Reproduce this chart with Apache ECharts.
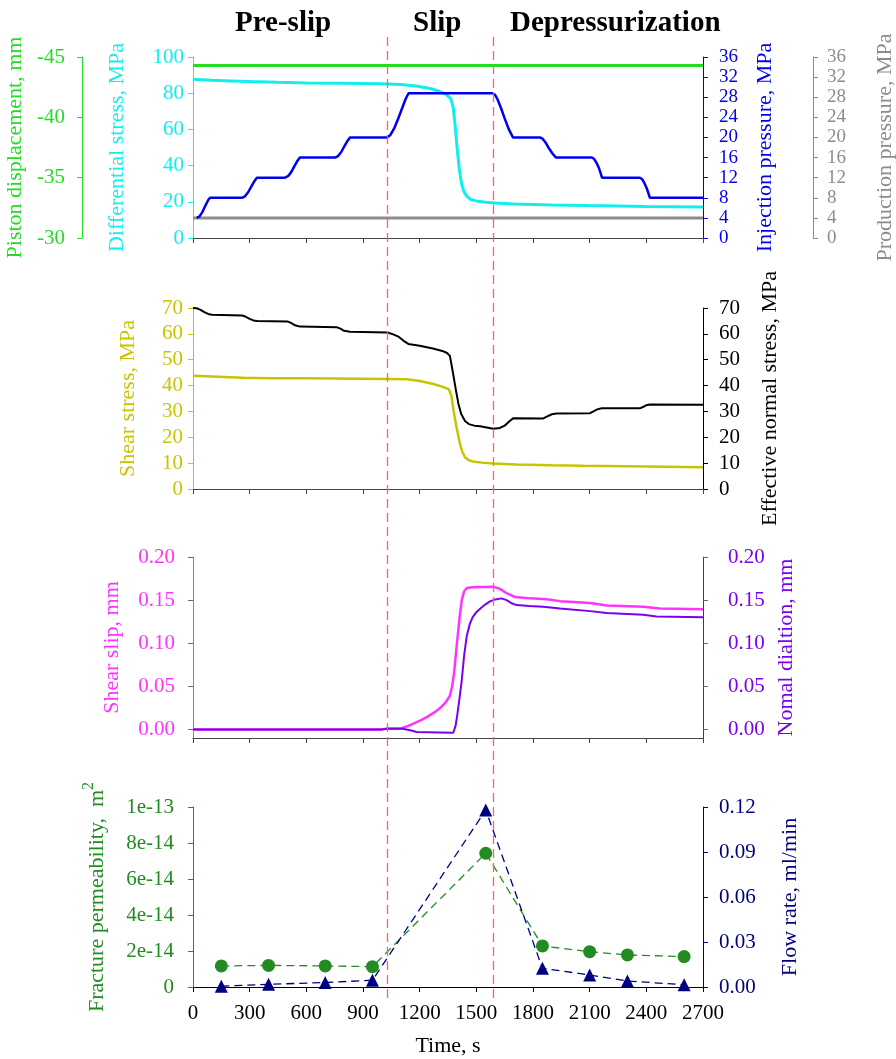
<!DOCTYPE html>
<html>
<head>
<meta charset="utf-8">
<script src="https://cdn.jsdelivr.net/npm/echarts@6/dist/echarts.min.js"></script>
<style>
  html, body { margin: 0; padding: 0; background: #fff; }
  #chart { width: 896px; height: 1059px; }
</style>
</head>
<body>
<div id="chart"></div>
<script>
// ---- Test phases ----
const phaseTitles = ['Pre-slip', 'Slip', 'Depressurization'];
const phaseBoundaries = [1030, 1590];          // s

// ---- Panel 1: loading & pore pressures ----
const pistonDisplacement = [[0, -44.3], [2700, -44.3]];   // mm
const productionPressure = [[0, 4], [2700, 4]];           // MPa
const differentialStress = [
  [0, 87.7], [100, 87.2], [200, 86.8], [300, 86.4], [450, 86.0], [600, 85.7],
  [800, 85.5], [1000, 85.2], [1100, 84.8], [1180, 84.0], [1250, 82.7], [1300, 81.2],
  [1340, 79.3], [1365, 77.0], [1378, 72.0], [1388, 62.0], [1398, 50.0], [1410, 38.0],
  [1422, 30.0], [1435, 25.5], [1450, 23.0], [1470, 21.3], [1500, 20.5], [1550, 19.8],
  [1600, 19.3], [1700, 18.8], [1900, 18.3], [2100, 17.9], [2400, 17.4], [2700, 17.1]
];
const injectionPressure = [
  [20, 4], [35, 4.3], [50, 5.2], [65, 6.4], [80, 7.5], [90, 8],
  [259, 8], [275, 8.3], [292, 9.1], [310, 10.3], [325, 11.3], [338, 12],
  [487, 12], [503, 12.3], [520, 13.1], [537, 14.3], [552, 15.3], [566, 16],
  [752, 16], [768, 16.3], [785, 17.1], [802, 18.3], [818, 19.3], [831, 20],
  [1027, 20], [1045, 20.5], [1065, 21.8], [1085, 23.6], [1105, 25.6], [1125, 27.6], [1141, 28.8],
  [1585, 28.8], [1598, 28.5], [1612, 27.6], [1630, 25.9], [1650, 23.8], [1672, 21.6], [1694, 20],
  [1837, 20], [1852, 19.7], [1868, 18.9], [1885, 17.8], [1903, 16.8], [1922, 16],
  [2112, 16], [2124, 15.7], [2137, 14.9], [2150, 13.8], [2158, 12.9], [2165, 12],
  [2366, 12], [2378, 11.7], [2390, 10.9], [2402, 9.9], [2411, 8.9], [2419, 8],
  [2700, 8]
];

// ---- Panel 2: fault stresses ----
const shearStress = [
  [0, 43.8], [100, 43.5], [266, 43.0], [400, 42.8], [600, 42.8], [1025, 42.5],
  [1131, 42.4], [1202, 41.8], [1272, 40.6], [1320, 39.6], [1355, 38.5], [1368, 36.0],
  [1380, 30.0], [1395, 24.0], [1410, 18.5], [1425, 14.5], [1440, 12.3], [1460, 11.1],
  [1490, 10.5], [1530, 10.2], [1590, 9.9], [1713, 9.5], [1900, 9.2], [2066, 9.0],
  [2400, 8.7], [2700, 8.4]
];
const effectiveNormalStress = [
  [0, 70], [20, 69.9], [40, 69.3], [60, 68.4], [80, 67.7], [100, 67.4],
  [260, 67.1], [280, 66.6], [300, 65.8], [320, 65.2], [340, 65.0],
  [500, 64.8], [520, 64.2], [540, 63.3], [566, 62.8],
  [760, 62.6], [780, 62.0], [800, 61.2], [831, 60.8],
  [1030, 60.5], [1060, 59.8], [1090, 58.8], [1115, 57.3], [1140, 56.1],
  [1200, 55.4], [1270, 54.3], [1320, 53.4], [1345, 52.6], [1360, 51.5],
  [1375, 45.5], [1390, 39.0], [1405, 33.0], [1420, 29.0], [1440, 26.3],
  [1460, 25.1], [1490, 24.5], [1520, 24.3], [1590, 23.3], [1625, 23.6],
  [1650, 24.5], [1675, 26.2], [1696, 27.4], [1855, 27.3], [1870, 27.9],
  [1900, 28.9], [1925, 29.2], [2102, 29.3], [2120, 30.0], [2140, 30.8],
  [2164, 31.2], [2366, 31.2], [2385, 31.8], [2400, 32.4], [2419, 32.7], [2700, 32.6]
];

// ---- Panel 3: fault displacements ----
const shearSlip = [
  [0, 0], [1000, 0], [1030, 0.001], [1100, 0.001], [1140, 0.004], [1170, 0.007],
  [1210, 0.011], [1240, 0.0145], [1280, 0.02], [1310, 0.025], [1340, 0.032],
  [1360, 0.039], [1372, 0.05], [1382, 0.065], [1392, 0.088], [1402, 0.11],
  [1413, 0.133], [1423, 0.15], [1435, 0.16], [1450, 0.164], [1480, 0.165],
  [1590, 0.1655], [1625, 0.163], [1660, 0.158], [1705, 0.1535], [1784, 0.152],
  [1872, 0.151], [1943, 0.1488], [2102, 0.1465], [2190, 0.1438], [2384, 0.1423],
  [2472, 0.1403], [2700, 0.1395]
];
const normalDilation = [
  [0, 0], [1000, 0], [1030, 0.0008], [1110, 0.0008], [1150, -0.001], [1184, -0.003],
  [1300, -0.0035], [1378, -0.0039], [1390, 0.004], [1400, 0.018], [1412, 0.038],
  [1422, 0.055], [1435, 0.085], [1449, 0.108], [1465, 0.122], [1480, 0.13],
  [1500, 0.136], [1520, 0.14], [1545, 0.1445], [1572, 0.1485], [1600, 0.1508],
  [1634, 0.152], [1660, 0.15], [1690, 0.146], [1713, 0.1442], [1780, 0.1432],
  [1855, 0.1423], [1943, 0.1403], [2102, 0.1372], [2190, 0.1349], [2300, 0.134],
  [2384, 0.1329], [2454, 0.131], [2700, 0.130]
];
const displacementTicks = [0, 0.05, 0.10, 0.15, 0.20];   // mm

// ---- Panel 4: hydraulic measurements ----
const sampleTimes = [150, 400, 700, 950, 1550, 1850, 2100, 2300, 2600];           // s
const fracturePermeability = [1.17e-14, 1.2e-14, 1.17e-14, 1.13e-14, 7.43e-14,
                              2.28e-14, 1.96e-14, 1.78e-14, 1.69e-14];          // m^2
const flowRate = [0.0005, 0.0018, 0.003, 0.0045, 0.118, 0.0125, 0.008, 0.004, 0.0015]; // ml/min

const timeTicks = { min: 0, max: 2700, interval: 300 };

// ---- Styling ----
const FONT = 'Liberation Serif';
const C = {
  lime: '#22dd22', cyan: '#11eeee', blue: '#0000ee', gray: '#8c8c8c',
  olive: '#c8c400', black: '#000000', magenta: '#ff33ff', purple: '#7b00f0',
  green: '#228b22', navy: '#000080', red: '#ff6464', axis: '#444444'
};
const PLOT_L = 193, PLOT_R = 193;
const panels = [
  { top: 57, height: 181 },
  { top: 308, height: 181 },
  { top: 557, height: 181 },
  { top: 807, height: 180 }
];

function xAxisFor(gridIndex, withLabels) {
  return {
    type: 'value', gridIndex, ...timeTicks,
    axisLine: { onZero: false, lineStyle: { color: withLabels ? '#000' : C.axis, width: 1 } },
    axisTick: { length: 5, lineStyle: { color: withLabels ? '#000' : C.axis } },
    axisLabel: withLabels
      ? { show: true, color: '#000', fontFamily: FONT, fontSize: 21, margin: 16,
          showMinLabel: true, showMaxLabel: true, hideOverlap: false,
          formatter: v => String(v) }
      : { show: false },
    splitLine: { show: false },
    name: withLabels ? 'Time, s' : '',
    nameLocation: 'middle', nameGap: 48,
    nameTextStyle: { color: '#000', fontFamily: FONT, fontSize: 22 }
  };
}

function yAxisFor(o) {
  const tickColor = o.tickColor || o.color;
  return {
    type: 'value', gridIndex: o.grid, position: o.pos, offset: o.offset || 0,
    min: o.min, max: o.max, interval: o.interval, inverse: !!o.inverse,
    axisLine: { show: true, onZero: false, lineStyle: { color: o.color, width: 1 } },
    axisTick: Object.assign({ show: true, length: 5, lineStyle: { color: tickColor } },
                            o.customTicks ? { customValues: o.customTicks } : {}),
    axisLabel: Object.assign({
      color: o.color, fontFamily: FONT, fontSize: o.labelSize || 21, margin: o.margin,
      showMinLabel: true, showMaxLabel: true, hideOverlap: false,
      formatter: o.formatter || (v => String(v))
    }, o.customTicks ? { customValues: o.customTicks } : {}),
    splitLine: { show: false },
    name: o.name, nameLocation: 'middle', nameRotate: 90, nameGap: o.nameGap,
    nameTextStyle: Object.assign({ color: o.color, fontFamily: FONT, fontSize: 22 }, o.nameStyle || {})
  };
}

function lineSeries(x, y, data, color, width, extra) {
  return Object.assign({
    type: 'line', xAxisIndex: x, yAxisIndex: y, data,
    showSymbol: false, symbol: 'none',
    lineStyle: { color, width }, itemStyle: { color }, z: 3
  }, extra || {});
}

const fixed2 = v => Number(v).toFixed(2);
const expLabel = v => (Math.abs(v) < 1e-20 ? '0' : Number(v).toExponential(0));

const option = {
  animation: false,
  backgroundColor: '#ffffff',
  title: [
    { text: phaseTitles[0], left: 230, top: 4 },
    { text: phaseTitles[1], left: 408, top: 4 },
    { text: phaseTitles[2], left: 505, top: 4 }
  ].map(t => Object.assign(t, {
    textStyle: { fontFamily: FONT, fontWeight: 'bold', fontSize: 29, color: '#000' }
  })),
  grid: panels.map(p => ({
    left: PLOT_L, right: PLOT_R, top: p.top, height: p.height, outerBoundsMode: 'none'
  })).concat([{ left: PLOT_L, right: PLOT_R, top: 35, height: 963, outerBoundsMode: 'none' }]),
  xAxis: [
    xAxisFor(0, false), xAxisFor(1, false), xAxisFor(2, false), xAxisFor(3, true),
    { type: 'value', gridIndex: 4, ...timeTicks, show: false }
  ],
  yAxis: [
    yAxisFor({ grid: 0, pos: 'left', min: 0, max: 100, interval: 20, color: C.cyan,
               name: 'Differential stress, MPa', nameGap: 65, margin: 9 }),
    yAxisFor({ grid: 0, pos: 'left', offset: 111, min: -45, max: -30, interval: 5, inverse: true,
               color: C.lime, name: 'Piston displacement, mm', nameGap: 51, margin: 17 }),
    yAxisFor({ grid: 0, pos: 'right', min: 0, max: 36, interval: 4, color: C.blue, labelSize: 19,
               name: 'Injection pressure, MPa', nameGap: 51, margin: 16 }),
    yAxisFor({ grid: 0, pos: 'right', offset: 110, min: 0, max: 36, interval: 4, color: C.gray,
               labelSize: 19, name: 'Production pressure, MPa', nameGap: 61, margin: 14 }),
    yAxisFor({ grid: 1, pos: 'left', min: 0, max: 70, interval: 10, color: C.olive,
               name: 'Shear stress, MPa', nameGap: 54, margin: 10 }),
    yAxisFor({ grid: 1, pos: 'right', min: 0, max: 70, interval: 10, color: C.black,
               name: 'Effective normal stress, MPa', nameGap: 56, margin: 16 }),
    yAxisFor({ grid: 2, pos: 'left', min: -0.01, max: 0.2, interval: 0.05, color: C.magenta,
               tickColor: '#666', customTicks: displacementTicks, formatter: fixed2,
               name: 'Shear slip, mm', nameGap: 70, margin: 18 }),
    yAxisFor({ grid: 2, pos: 'right', min: -0.01, max: 0.2, interval: 0.05, color: C.purple,
               tickColor: '#666', customTicks: displacementTicks, formatter: fixed2,
               name: 'Nomal dialtion, mm', nameGap: 72, margin: 25 }),
    yAxisFor({ grid: 3, pos: 'left', min: 0, max: 1e-13, interval: 2e-14, color: C.green,
               formatter: expLabel, name: 'Fracture permeability,  m{sup|2}', nameGap: 80, margin: 19,
               nameStyle: { rich: { sup: { fontFamily: FONT, fontSize: 16, color: C.green,
                                          padding: [0, 0, 16, 0] } } } }),
    yAxisFor({ grid: 3, pos: 'right', min: 0, max: 0.12, interval: 0.03, color: C.navy,
               formatter: fixed2, name: 'Flow rate, ml/min', nameGap: 76, margin: 16 }),
    { type: 'value', gridIndex: 4, min: 0, max: 1, show: false }
  ],
  series: [
    // phase boundaries spanning all panels
    {
      type: 'line', xAxisIndex: 4, yAxisIndex: 10, data: [[0, 0.5], [2700, 0.5]],
      showSymbol: false, lineStyle: { opacity: 0 }, z: 1, silent: true,
      markLine: {
        silent: true, symbol: 'none', label: { show: false },
        lineStyle: { color: C.red, type: [9, 5], width: 1.3 },
        data: phaseBoundaries.map(t => ({ xAxis: t }))
      }
    },
    lineSeries(0, 3, productionPressure, C.gray, 3),
    lineSeries(0, 0, differentialStress, C.cyan, 3),
    lineSeries(0, 2, injectionPressure, C.blue, 2.5),
    lineSeries(0, 1, pistonDisplacement, C.lime, 3),
    lineSeries(1, 4, shearStress, C.olive, 2.5),
    lineSeries(1, 5, effectiveNormalStress, C.black, 2),
    lineSeries(2, 6, shearSlip, C.magenta, 2.5),
    lineSeries(2, 7, normalDilation, C.purple, 2),
    {
      type: 'line', xAxisIndex: 3, yAxisIndex: 8,
      data: sampleTimes.map((t, i) => [t, fracturePermeability[i]]),
      symbol: 'circle', symbolSize: 13, showSymbol: true,
      lineStyle: { color: C.green, width: 1.3, type: [8, 5] },
      itemStyle: { color: C.green }, z: 3
    },
    {
      type: 'line', xAxisIndex: 3, yAxisIndex: 9,
      data: sampleTimes.map((t, i) => [t, flowRate[i]]),
      symbol: 'triangle', symbolSize: 13, showSymbol: true,
      lineStyle: { color: C.navy, width: 1.3, type: [8, 5] },
      itemStyle: { color: C.navy }, z: 4
    }
  ]
};

const chart = echarts.init(document.getElementById('chart'), null, { renderer: 'canvas' });
chart.setOption(option);
</script>
</body>
</html>
